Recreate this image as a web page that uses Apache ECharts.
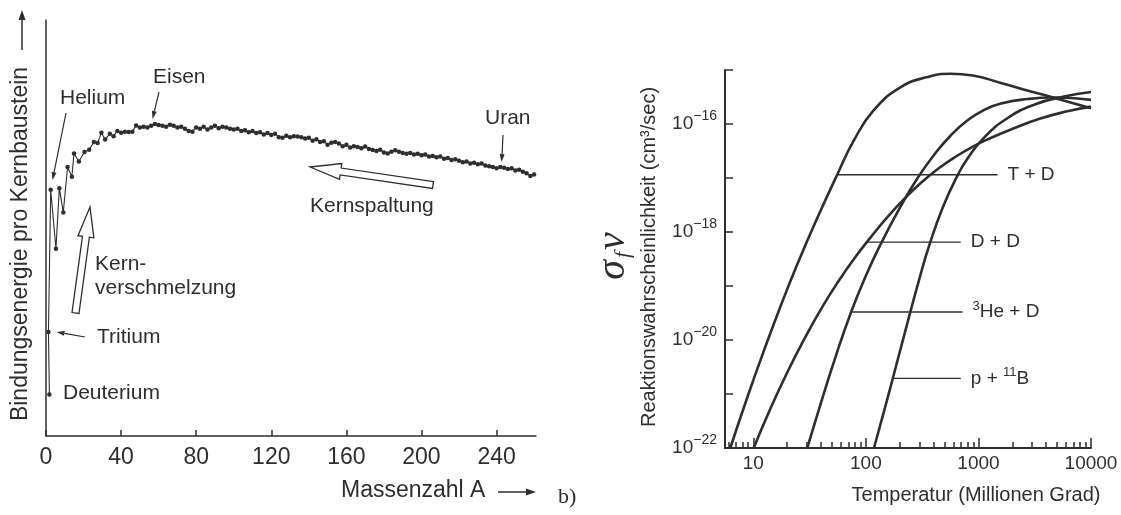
<!DOCTYPE html>
<html>
<head>
<meta charset="utf-8">
<script src="https://cdn.jsdelivr.net/npm/echarts@6/dist/echarts.min.js"></script>
<style>
    html, body { margin: 0; padding: 0; background: #fff; }
    #main { width: 1121px; height: 515px; }
</style>
</head>
<body>
<div id="main"></div>
<script>
// ---- a) Bindungsenergie pro Kernbaustein (MeV) ----
var massA = [1.8, 1.3, 2.5, 5.3, 7.1, 9.2, 11.5, 13.8, 14.9, 17.5, 20.5, 23, 25.5, 27.5, 29.5, 31.5, 34, 36, 38,
    40, 42, 44, 46, 48, 50, 52, 54, 56, 58, 60, 62, 64, 66, 68, 70, 72, 74, 76, 78,
    80, 82, 84, 86, 88, 90, 92, 94, 96, 98, 100, 102, 104, 106, 108, 110, 112, 114, 116, 118, 120,
    122, 124, 126, 128, 130, 132, 134, 136, 138, 140, 142, 144, 146, 148, 150, 152, 154, 156, 158, 160,
    162, 164, 166, 168, 170, 172, 174, 176, 178, 180, 182, 184, 186, 188, 190, 192, 194, 196, 198, 200,
    202, 204, 206, 208, 210, 212, 214, 216, 218, 220, 222, 224, 226, 228, 230, 232, 234, 236, 238, 240,
    242, 244, 246, 248, 250, 252, 254, 256, 258, 260];
var bindE = [1.2, 3.0, 7.1, 5.4, 7.15, 6.45, 7.76, 7.48, 8.15, 7.92, 8.19, 8.26, 8.48, 8.45, 8.75, 8.55, 8.72, 8.65, 8.8,
    8.75, 8.78, 8.77, 8.78, 8.96, 8.9, 8.92, 8.9, 8.95, 9.0, 8.97, 8.95, 8.92, 8.98, 8.95, 8.9, 8.92, 8.86, 8.8, 8.78,
    8.9, 8.86, 8.92, 8.84, 8.9, 8.95, 8.88, 8.92, 8.9, 8.86, 8.84, 8.86, 8.8, 8.82, 8.76, 8.8, 8.74, 8.76, 8.7, 8.74, 8.68,
    8.72, 8.62, 8.6, 8.66, 8.62, 8.65, 8.64, 8.62, 8.58, 8.6, 8.52, 8.56, 8.48, 8.5, 8.4, 8.46, 8.48, 8.44, 8.36, 8.4,
    8.32, 8.36, 8.34, 8.3, 8.35, 8.28, 8.25, 8.22, 8.26, 8.18, 8.15, 8.2, 8.24, 8.2, 8.16, 8.14, 8.16, 8.12, 8.14, 8.1,
    8.12, 8.06, 8.08, 8.04, 8.06, 8.0, 8.02, 7.96, 7.98, 7.94, 7.9, 7.92, 7.86, 7.88, 7.84, 7.86, 7.8, 7.78, 7.76, 7.72,
    7.76, 7.74, 7.7, 7.72, 7.66, 7.68, 7.62, 7.58, 7.5, 7.54];
var massTicks = [0, 40, 80, 120, 160, 200, 240];

// ---- b) Reaktionswahrscheinlichkeit gegen Temperatur ----
var tdTemp = [6.24, 8.91, 12.6, 17.8, 25.1, 35.5, 55.6, 78.0, 117, 204, 352, 568, 891, 1585, 2818, 5012, 10000];
var tdRate = [1e-22, 9.1e-22, 6.9e-21, 4.7e-20, 2.8e-19, 1.5e-18, 1.15e-17, 4.9e-17, 1.78e-16, 4.8e-16, 7.4e-16, 8.5e-16, 7.9e-16, 5.75e-16, 4.1e-16, 2.95e-16, 1.95e-16];
var ddTemp = [10.07, 14.1, 20.0, 28.2, 39.8, 56.2, 79.4, 112, 158, 224, 316, 447, 631, 891, 1259, 1995, 3548, 6310, 10000];
var ddRate = [1e-22, 5.2e-22, 2.5e-21, 1.02e-20, 3.7e-20, 1.17e-19, 3.3e-19, 8.3e-19, 1.97e-18, 4.3e-18, 8.5e-18, 1.53e-17, 2.5e-17, 3.8e-17, 5.4e-17, 8.1e-17, 1.26e-16, 1.74e-16, 2.1e-16];
var hedTemp = [30.1, 39.8, 52.5, 73.1, 100, 135, 204, 286, 404, 562, 800, 1122, 1585, 2735, 4721, 7112, 10000];
var hedRate = [1e-22, 6.8e-22, 4.2e-21, 3.1e-20, 1.55e-19, 5.9e-19, 3.0e-18, 9.8e-18, 2.7e-17, 6.0e-17, 1.17e-16, 1.82e-16, 2.4e-16, 2.9e-16, 3.1e-16, 3.0e-16, 2.8e-16];
var pbTemp = [118, 145, 178, 242, 302, 363, 479, 652, 800, 1122, 1820, 3162, 5623, 10000];
var pbRate = [1e-22, 4.8e-22, 2.4e-21, 2.7e-20, 1.48e-19, 5.4e-19, 2.75e-18, 1.12e-17, 2.3e-17, 5.6e-17, 1.29e-16, 2.3e-16, 3.2e-16, 3.9e-16];

// Beschriftungslinien: [T links, T rechts], Höhe, Text (rich text für Hochstellung)
var leaderNames = ["T + D", "D + D", "{s|3}He + D", "p + {s|11}B"];
var leaderTemp = [[55.6, 1479], [100, 697], [73, 721], [173, 697]];
var leaderRate = [1.15e-17, 6.5e-19, 3.3e-20, 1.95e-21];

var tempMajor = [10, 100, 1000, 10000];
var tempMinor = [6, 7, 8, 9, 20, 30, 40, 50, 60, 70, 80, 90, 200, 300, 400, 500, 600, 700, 800, 900,
    2000, 3000, 4000, 5000, 6000, 7000, 8000, 9000];
var rateTicks = [1e-22, 1e-21, 1e-20, 1e-19, 1e-18, 1e-17, 1e-16, 1e-15];
var rateLabels = [1e-22, 1e-20, 1e-18, 1e-16];

var ink = "#2e2e2e";
var sans = '"Liberation Sans", Arial, sans-serif';
var serif = '"Liberation Serif", serif';

function pairs(xs, ys) {
    return xs.map(function (x, i) { return [x, ys[i]]; });
}

// dünner Zeigepfeil mit gefüllter Spitze bei (x2, y2)
function pointer(x1, y1, x2, y2, len, half, width) {
    var ang = Math.atan2(y2 - y1, x2 - x1);
    var bx = x2 - len * Math.cos(ang), by = y2 - len * Math.sin(ang);
    var nx = -Math.sin(ang), ny = Math.cos(ang);
    return [
        { type: "line", silent: true, shape: { x1: x1, y1: y1, x2: bx, y2: by }, style: { stroke: ink, lineWidth: width || 1.2 } },
        { type: "polygon", silent: true, shape: { points: [[x2, y2], [bx + nx * half, by + ny * half], [bx - nx * half, by - ny * half]] }, style: { fill: ink } }
    ];
}

// hohler Blockpfeil von (tx, ty) nach (px, py)
function hollowArrow(tx, ty, px, py, sw, hw, hl) {
    var ang = Math.atan2(py - ty, px - tx);
    var ux = Math.cos(ang), uy = Math.sin(ang), nx = -uy, ny = ux;
    var bx = px - hl * ux, by = py - hl * uy;
    var pts = [
        [tx + nx * sw, ty + ny * sw], [bx + nx * sw, by + ny * sw], [bx + nx * hw, by + ny * hw],
        [px, py],
        [bx - nx * hw, by - ny * hw], [bx - nx * sw, by - ny * sw], [tx - nx * sw, ty - ny * sw]
    ];
    return { type: "polygon", silent: true, shape: { points: pts }, style: { fill: "#fff", stroke: ink, lineWidth: 1.3 } };
}

function txt(text, x, y, size, opt) {
    opt = opt || {};
    return {
        type: "text", silent: true, x: x, y: y, rotation: opt.rot || 0,
        style: {
            text: text, fill: ink, font: size + "px " + (opt.family || sans),
            align: opt.align || "left", textAlign: opt.align || "left",
            verticalAlign: "middle", textVerticalAlign: "middle",
            rich: opt.rich
        }
    };
}

var graphics = [
    txt("Helium", 60, 98, 21),
    txt("Eisen", 153, 77, 21),
    txt("Uran", 485, 118, 21),
    txt("Kernspaltung", 310, 206, 21),
    txt("Kern-", 95, 264, 21),
    txt("verschmelzung", 95, 288, 21),
    txt("Tritium", 97, 337, 21),
    txt("Deuterium", 63, 393, 21),
    txt("Massenzahl A", 341, 491, 23),
    txt("Bindungsenergie pro Kernbaustein", 21, 244, 23, { rot: Math.PI / 2, align: "center" }),
    hollowArrow(433, 185, 310, 167, 3.5, 8, 31),
    hollowArrow(75.5, 313, 90, 207, 3.5, 8, 30),
    // rechte Tafel
    txt("Temperatur (Millionen Grad)", 976, 495, 20, { align: "center" }),
    txt("Reaktionswahrscheinlichkeit (cm³/sec)", 649, 257, 20, { rot: Math.PI / 2, align: "center" }),
    txt("{a|σ}{b|f}{c|ν}", 613, 256, 40, {
        rot: Math.PI / 2, align: "center", family: serif,
        rich: {
            a: { fontSize: 40, fontStyle: "italic", fontFamily: serif, fill: ink },
            b: { fontSize: 22, fontStyle: "italic", fontFamily: serif, fill: ink, padding: [20, 2, 0, 2] },
            c: { fontSize: 40, fontStyle: "italic", fontFamily: serif, fill: ink }
        }
    }),
    txt("b)", 558, 497, 22, { family: serif })
]
    .concat(pointer(66, 113, 52.5, 180, 8, 2.5))
    .concat(pointer(159, 92, 152.5, 119, 8, 2.5))
    .concat(pointer(503, 135, 501.7, 162, 8, 2.5))
    .concat(pointer(85, 337, 56.5, 332, 8, 2.5))
    .concat(pointer(22, 50, 22, 10, 10, 3.5, 1.5))
    .concat(pointer(498, 492, 536, 492, 10, 3.5, 1.5));

var myChart = echarts.init(document.getElementById("main"));

function curve(name, xs, ys) {
    return {
        name: name, type: "line", xAxisIndex: 1, yAxisIndex: 1,
        data: pairs(xs, ys), smooth: 0.5, showSymbol: false, symbol: "none",
        lineStyle: { color: ink, width: 2.6 }, itemStyle: { color: ink }
    };
}
function leader(i) {
    return {
        name: "leader" + i, type: "line", xAxisIndex: 1, yAxisIndex: 1,
        data: [[leaderTemp[i][0], leaderRate[i]], [leaderTemp[i][1], leaderRate[i]]],
        symbol: "none", lineStyle: { color: ink, width: 1.4 },
        endLabel: {
            show: true, formatter: leaderNames[i], distance: 10, fontSize: 19, fontFamily: sans, color: ink,
            rich: {
                s: { fontSize: 13, fontFamily: sans, color: ink, padding: [0, 0, 12, 0] }
            }
        }
    };
}

var option = {
    animation: false,
    backgroundColor: "#fff",
    textStyle: { fontFamily: sans },
    grid: [
        { left: 46, right: 585, top: 20, bottom: 79 },
        { left: 725, right: 30, top: 70, bottom: 67 }
    ],
    xAxis: [
        {
            gridIndex: 0, type: "value", min: 0, max: 261, position: "bottom",
            axisLine: { show: true, lineStyle: { color: ink, width: 1.5 } },
            axisTick: { show: true, inside: true, length: 6, customValues: massTicks, lineStyle: { color: ink, width: 1.5 } },
            axisLabel: { customValues: massTicks, fontSize: 23, color: ink, margin: 10 },
            splitLine: { show: false }
        },
        {
            gridIndex: 1, type: "log", logBase: 10, min: 5.6, max: 10000, position: "bottom",
            axisLine: { show: true, lineStyle: { color: ink, width: 2 } },
            axisTick: { show: true, inside: true, length: 10, customValues: tempMajor, lineStyle: { color: ink, width: 1.5 } },
            axisLabel: {
                customValues: tempMajor, fontSize: 19, color: ink, margin: 6,
                formatter: function (v) { return String(Math.round(v)); }
            },
            splitLine: { show: false }
        },
        {
            gridIndex: 1, type: "log", logBase: 10, min: 5.6, max: 10000, position: "bottom", offset: 0,
            axisLine: { show: false },
            axisTick: { show: true, inside: true, length: 6, customValues: tempMinor, lineStyle: { color: ink, width: 1.5 } },
            axisLabel: { show: false },
            splitLine: { show: false }
        }
    ],
    yAxis: [
        {
            gridIndex: 0, type: "value", min: 0, max: 12,
            axisLine: { show: true, lineStyle: { color: ink, width: 1.5 } },
            axisTick: { show: false },
            axisLabel: { show: false },
            splitLine: { show: false }
        },
        {
            gridIndex: 1, type: "log", logBase: 10, min: 1e-22, max: 1e-15,
            axisLine: { show: true, lineStyle: { color: ink, width: 2 } },
            axisTick: { show: true, inside: true, length: 8, customValues: rateTicks, lineStyle: { color: ink, width: 1.5 } },
            axisLabel: {
                customValues: rateLabels, margin: 8, color: ink,
                formatter: function (v) {
                    var e = Math.round(Math.log(v) / Math.LN10);
                    return "{b|10}{s|−" + (-e) + "}";
                },
                rich: {
                    b: { fontSize: 19, color: ink, fontFamily: sans },
                    s: { fontSize: 14, color: ink, fontFamily: sans, padding: [0, 0, 16, 0] }
                }
            },
            splitLine: { show: false }
        }
    ],
    series: [
        {
            name: "Bindungsenergie", type: "line", xAxisIndex: 0, yAxisIndex: 0,
            data: pairs(massA, bindE),
            symbol: "circle", symbolSize: 4.5, showSymbol: true,
            lineStyle: { color: ink, width: 1.1 }, itemStyle: { color: ink }
        },
        curve("T + D", tdTemp, tdRate),
        curve("D + D", ddTemp, ddRate),
        curve("3He + D", hedTemp, hedRate),
        curve("p + 11B", pbTemp, pbRate),
        leader(0), leader(1), leader(2), leader(3)
    ],
    graphic: graphics
};
myChart.setOption(option);
</script>
</body>
</html>
